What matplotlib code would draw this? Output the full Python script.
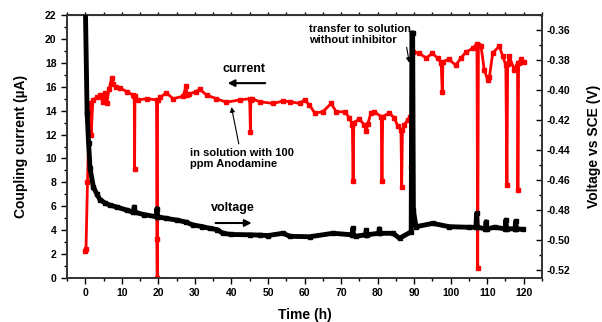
import matplotlib
matplotlib.use("Agg")
import matplotlib.pyplot as plt
from matplotlib.ticker import MultipleLocator

plt.rcParams['font.family'] = ['Liberation Sans', 'DejaVu Sans']
plt.rcParams['font.weight'] = 'bold'

# coupling current (red, left axis), time in h, current in uA
t_cur = [0.0, 0.2, 0.6, 1.0, 1.3, 1.6, 2.1, 3.2, 4.0, 4.8, 5.3, 5.9, 6.5, 7.2, 7.7,
         8.5, 9.5, 11.3, 13.1, 13.4, 13.5, 13.6, 14.5, 16.8, 19.5, 19.6, 19.7, 19.8,
         20.5, 22.2, 24.0, 26.8, 27.6, 27.8, 28.5, 30.4, 31.3, 33.2, 35.9, 38.6, 42.3,
         45.0, 45.2, 45.3, 45.5, 47.7, 51.4, 54.1, 56.0, 58.7, 60.0, 61.3, 62.8, 65.0,
         67.3, 68.7, 71.0, 72.3, 73.1, 73.3, 73.5, 75.0, 76.4, 76.9, 77.3, 78.2, 79.1,
         81.0, 81.2, 81.4, 83.2, 84.6, 85.5, 86.4, 86.6, 86.8, 87.3, 88.2, 89.0, 89.2,
         89.8, 91.4, 93.3, 95.0, 96.4, 97.4, 97.7, 97.9, 99.5, 101.4, 102.8, 104.2, 106.0,
         107.2, 107.4, 107.6, 108.3, 109.2, 110.1, 110.6, 111.5, 113.3, 114.2, 115.1,
         115.4, 115.6, 116.0, 117.4, 118.3, 118.4, 118.6, 119.2, 120.0]
i_cur = [2.3, 2.4, 8.0, 12.5, 14.6, 12.0, 14.9, 15.1, 15.3, 14.7, 15.5, 14.6, 15.8, 16.7, 16.2,
         16.0, 15.9, 15.6, 15.3, 15.2, 9.1, 15.2, 14.9, 15.0, 14.9, 3.3, 0.0, 14.9,
         15.1, 15.5, 15.0, 15.2, 16.1, 15.3, 15.4, 15.6, 15.8, 15.3, 15.0, 14.7, 14.9,
         15.0, 12.2, 14.9, 15.0, 14.75, 14.6, 14.8, 14.75, 14.6, 14.9, 14.5, 13.8, 13.9,
         14.6, 13.9, 13.9, 13.4, 12.8, 8.1, 13.0, 13.3, 12.8, 12.3, 12.9, 13.8, 13.9,
         13.5, 8.1, 13.5, 13.8, 13.4, 12.7, 12.4, 7.6, 12.4, 12.8, 13.2, 13.5, 9.3,
         18.9, 18.8, 18.4, 18.8, 18.4, 18.0, 15.6, 18.1, 18.3, 17.8, 18.4, 18.9, 19.2,
         19.6, 0.86, 19.5, 19.4, 17.4, 16.6, 16.8, 18.8, 19.4, 18.6, 17.8,
         7.8, 17.9, 18.6, 17.4, 18.0, 7.4, 18.0, 18.3, 18.1]

# coupling voltage (black, right axis), V vs SCE
t_volt = [0.0, 0.5, 0.9, 1.3, 2.2, 3.1, 4.0, 5.5, 6.7, 8.6, 11.3, 13.1, 13.4, 13.6, 16.0,
          19.5, 19.6, 19.8, 22.0, 25.0, 27.5, 29.5, 32.0, 34.0, 36.0, 37.7, 40.0, 45.0,
          47.7, 50.0, 54.1, 56.0, 61.4, 67.8, 73.0, 73.2, 73.4, 74.0, 76.7, 76.9, 77.1,
          80.3, 80.5, 80.7, 84.2, 86.0, 89.2, 89.4, 89.6, 89.8, 90.5, 95.1, 99.6, 105.1,
          106.9, 107.1, 107.3, 109.5, 109.7, 109.9, 112.0, 114.9, 115.1, 115.3, 117.6,
          117.8, 118.0, 119.7]
v_volt = [-0.34, -0.415, -0.435, -0.452, -0.4645, -0.469, -0.473, -0.4755, -0.4767, -0.478,
          -0.480, -0.4815, -0.478, -0.4815, -0.483, -0.4845, -0.479, -0.4845, -0.4855,
          -0.4867, -0.488, -0.490, -0.491, -0.4922, -0.493, -0.4955, -0.4963, -0.4965,
          -0.4967, -0.497, -0.4955, -0.4975, -0.4978, -0.4955, -0.4965, -0.4922, -0.4965,
          -0.4975, -0.4965, -0.4935, -0.4965, -0.4955, -0.4925, -0.4955, -0.4955, -0.4988,
          -0.4945, -0.362, -0.362, -0.480, -0.4911, -0.4889, -0.4911, -0.4915,
          -0.4915, -0.4822, -0.4915, -0.4925, -0.4878, -0.4925, -0.4915, -0.4925, -0.4867,
          -0.4925, -0.4925, -0.4875, -0.4925, -0.4929]

fig = plt.figure(figsize=(6.02, 3.22), dpi=100)
ax = fig.add_axes([67 / 602, 1 - 278 / 322, 475 / 602, 263 / 322])
ax2 = ax.twinx()

ax.plot(t_cur, i_cur, color='#ff0000', lw=2, marker='s', ms=2.5, zorder=2)
ax2.plot(t_volt, v_volt, color='black', lw=3.5, marker='s', ms=3, zorder=3)

ax.set_xlim(-5, 125)
ax.set_ylim(0, 22)
ax2.set_ylim(-0.5253, -0.35)

ax.xaxis.set_major_locator(MultipleLocator(10))
ax.xaxis.set_minor_locator(MultipleLocator(5))
ax.yaxis.set_major_locator(MultipleLocator(2))
ax.yaxis.set_minor_locator(MultipleLocator(1))
ax2.yaxis.set_major_locator(MultipleLocator(0.02))
ax2.yaxis.set_minor_locator(MultipleLocator(0.01))
ax2.yaxis.set_major_formatter(matplotlib.ticker.FormatStrFormatter('%.2f'))

ax.tick_params(which='major', direction='out', length=4, width=1, labelsize=7.5)
ax.tick_params(which='minor', direction='out', length=2.5, width=1)
ax2.tick_params(which='major', direction='in', length=4, width=1, labelsize=7.5)
ax2.tick_params(which='minor', direction='in', length=2.5, width=1)

top = ax.secondary_xaxis('top')
top.set_xticks(range(-5, 126, 5))
top.tick_params(direction='out', length=2, width=1, labeltop=False)

for a in (ax, ax2):
    for s in a.spines.values():
        s.set_linewidth(1.2)
        s.set_color('#333333')

ax.set_xlabel('Time (h)', fontsize=10, fontweight='bold')
ax.xaxis.set_label_coords(0.5, -0.115)
ax.set_ylabel('Coupling current (\u00b5A)', fontsize=10, fontweight='bold')
ax.yaxis.set_label_coords(-0.082, 0.5)
ax2.set_ylabel('Voltage vs SCE (V)', fontsize=10, fontweight='bold', rotation=90)
ax2.yaxis.set_label_coords(1.095, 0.5)

ax.annotate('', xy=(38.2, 16.3), xytext=(50.0, 16.3),
            arrowprops=dict(arrowstyle='-|>', color='black', lw=1.5, mutation_scale=10))
ax.text(37.5, 17.5, 'current', fontsize=9, fontweight='bold', va='center')

ax.annotate('', xy=(46.3, 4.6), xytext=(34.9, 4.6),
            arrowprops=dict(arrowstyle='-|>', color='black', lw=1.5, mutation_scale=10))
ax.text(34.5, 5.85, 'voltage', fontsize=9, fontweight='bold', va='center')

ax.annotate('in solution with 100\nppm Anodamine', xy=(40.0, 14.3), xytext=(28.6, 10.0),
            fontsize=8, fontweight='bold', va='center', linespacing=1.1,
            arrowprops=dict(arrowstyle='-|>', color='black', lw=0.8, mutation_scale=7,
                            relpos=(0.48, 1.0), shrinkA=1, shrinkB=0))

ax.annotate('transfer to solution\nwithout inhibitor', xy=(88.7, 18.0), xytext=(61.3, 20.4),
            fontsize=8, fontweight='bold', va='center', linespacing=1.1,
            arrowprops=dict(arrowstyle='-|>', color='black', lw=0.8, mutation_scale=7,
                            relpos=(0.95, 0.0), shrinkA=0, shrinkB=0))

fig.savefig('out.png', dpi=100)
